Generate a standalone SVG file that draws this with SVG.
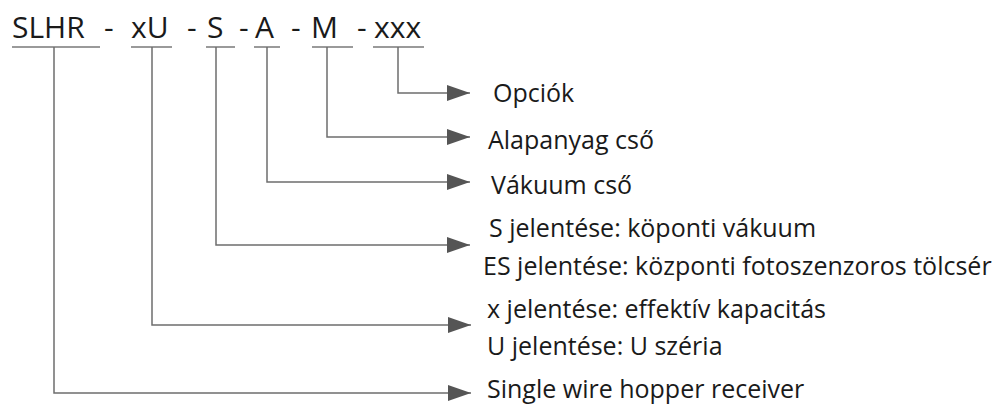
<svg xmlns="http://www.w3.org/2000/svg" width="997" height="406" viewBox="0 0 997 406">
<style>
.t{font-family:"Open Sans","Noto Sans","Liberation Sans",sans-serif;fill:#1a1a1a}
.h{font-size:30px}
.l{font-size:25px}
.u{stroke:#7a7a7a;stroke-width:1.5;fill:none}
.c{stroke:#6e6e6e;stroke-width:1.5;fill:none}
</style>
<defs>
<marker id="ah" viewBox="0 0 23 16" refX="23" refY="8" markerWidth="23" markerHeight="16" markerUnits="userSpaceOnUse" orient="auto">
<path d="M0,0 L23,8 L0,16 Z" fill="#555"/>
</marker>
</defs>
<g id="code">
<text class="t h" x="12" y="38">SLHR</text>
<text class="t h" x="104" y="38">-</text>
<text class="t h" x="131" y="38">xU</text>
<text class="t h" x="187" y="38">-</text>
<text class="t h" x="207" y="38">S</text>
<text class="t h" x="239" y="38">-</text>
<text class="t h" x="255" y="38">A</text>
<text class="t h" x="291" y="38">-</text>
<text class="t h" x="311" y="38">M</text>
<text class="t h" x="357" y="38">-</text>
<text class="t h" x="374" y="38">xxx</text>
<path class="u" d="M12,47H100M131,47H172M206,47H235M254,47H280M312,47H353M373,47H424"/>
</g>
<g id="connectors">
<path class="c" d="M398,47V93H470" marker-end="url(#ah)"/>
<path class="c" d="M327,47V137H470" marker-end="url(#ah)"/>
<path class="c" d="M267,47V182H470" marker-end="url(#ah)"/>
<path class="c" d="M216,47V245H470" marker-end="url(#ah)"/>
<path class="c" d="M152,47V325H471" marker-end="url(#ah)"/>
<path class="c" d="M54,47V393H471" marker-end="url(#ah)"/>
</g>
<g id="n-opciok"><text class="t l" x="493" y="102">Opciók</text></g>
<g id="n-alapanyag"><text class="t l" x="488" y="149">Alapanyag cső</text></g>
<g id="n-vakuum"><text class="t l" x="491" y="194">Vákuum cső</text></g>
<g id="n-s">
<text class="t l" x="489" y="237">S jelentése: köponti vákuum</text>
<text class="t l" x="483" y="275">ES jelentése: központi fotoszenzoros tölcsér</text>
</g>
<g id="n-xu">
<text class="t l" x="487" y="318">x jelentése: effektív kapacitás</text>
<text class="t l" x="487" y="355">U jelentése: U széria</text>
</g>
<g id="n-slhr"><text class="t l" x="487" y="398">Single wire hopper receiver</text></g>
</svg>
